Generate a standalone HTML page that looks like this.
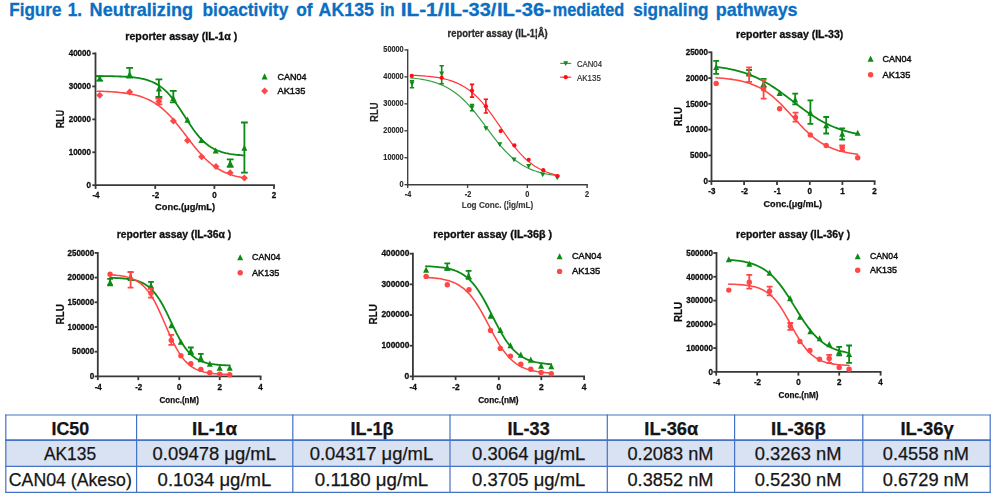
<!DOCTYPE html>
<html>
<head>
<meta charset="utf-8">
<title>Figure 1</title>
<style>
html, body { margin: 0; padding: 0; background: #ffffff; }
body { width: 996px; height: 502px; overflow: hidden; position: relative; font-family: "Liberation Sans", sans-serif; }
svg { position: absolute; left: 0; top: 0; }
svg text { font-family: "Liberation Sans", sans-serif; }
</style>
</head>
<body>
<svg id="charts" width="996" height="502" viewBox="0 0 996 502">
<defs><filter id="soft" x="-2%" y="-2%" width="104%" height="104%"><feGaussianBlur stdDeviation="0.62"/></filter></defs>
<g filter="url(#soft)">
<path d="M95.50,52.60 L95.50,185.20 L274.90,185.20" stroke="#383838" stroke-width="1.8" fill="none" stroke-linejoin="miter"/>
<path d="M92.30,185.20 L95.50,185.20" stroke="#383838" stroke-width="1.8"/>
<text x="90.90" y="187.52" font-size="9.5" font-weight="bold" text-anchor="end" fill="#0c0c0c" textLength="4.5" lengthAdjust="spacingAndGlyphs" stroke="#0c0c0c" stroke-width="0.3">0</text>
<path d="M92.30,152.27 L95.50,152.27" stroke="#383838" stroke-width="1.8"/>
<text x="90.90" y="154.59" font-size="9.5" font-weight="bold" text-anchor="end" fill="#0c0c0c" textLength="22.2" lengthAdjust="spacingAndGlyphs" stroke="#0c0c0c" stroke-width="0.3">10000</text>
<path d="M92.30,119.35 L95.50,119.35" stroke="#383838" stroke-width="1.8"/>
<text x="90.90" y="121.67" font-size="9.5" font-weight="bold" text-anchor="end" fill="#0c0c0c" textLength="22.2" lengthAdjust="spacingAndGlyphs" stroke="#0c0c0c" stroke-width="0.3">20000</text>
<path d="M92.30,86.42 L95.50,86.42" stroke="#383838" stroke-width="1.8"/>
<text x="90.90" y="88.74" font-size="9.5" font-weight="bold" text-anchor="end" fill="#0c0c0c" textLength="22.2" lengthAdjust="spacingAndGlyphs" stroke="#0c0c0c" stroke-width="0.3">30000</text>
<path d="M92.30,53.50 L95.50,53.50" stroke="#383838" stroke-width="1.8"/>
<text x="90.90" y="55.82" font-size="9.5" font-weight="bold" text-anchor="end" fill="#0c0c0c" textLength="22.2" lengthAdjust="spacingAndGlyphs" stroke="#0c0c0c" stroke-width="0.3">40000</text>
<path d="M95.60,185.20 L95.60,188.90" stroke="#383838" stroke-width="1.8"/>
<text x="96.00" y="197.72" font-size="9.5" font-weight="bold" text-anchor="middle" fill="#0c0c0c" textLength="7.1" lengthAdjust="spacingAndGlyphs" stroke="#0c0c0c" stroke-width="0.3">-4</text>
<path d="M155.20,185.20 L155.20,188.90" stroke="#383838" stroke-width="1.8"/>
<text x="155.60" y="197.72" font-size="9.5" font-weight="bold" text-anchor="middle" fill="#0c0c0c" textLength="7.1" lengthAdjust="spacingAndGlyphs" stroke="#0c0c0c" stroke-width="0.3">-2</text>
<path d="M214.40,185.20 L214.40,188.90" stroke="#383838" stroke-width="1.8"/>
<text x="214.40" y="197.72" font-size="9.5" font-weight="bold" text-anchor="middle" fill="#0c0c0c" textLength="4.5" lengthAdjust="spacingAndGlyphs" stroke="#0c0c0c" stroke-width="0.3">0</text>
<path d="M274.00,185.20 L274.00,188.90" stroke="#383838" stroke-width="1.8"/>
<text x="274.00" y="197.72" font-size="9.5" font-weight="bold" text-anchor="middle" fill="#0c0c0c" textLength="4.5" lengthAdjust="spacingAndGlyphs" stroke="#0c0c0c" stroke-width="0.3">2</text>
<text x="181.30" y="39.60" font-size="10.9" font-weight="bold" text-anchor="middle" fill="#0c0c0c" textLength="112.0" lengthAdjust="spacingAndGlyphs" stroke="#0c0c0c" stroke-width="0.3">reporter assay (IL-1α )</text>
<text x="185.10" y="210.20" font-size="9.7" font-weight="bold" text-anchor="middle" fill="#0c0c0c" textLength="60" lengthAdjust="spacingAndGlyphs" stroke="#0c0c0c" stroke-width="0.25">Conc.(μg/mL)</text>
<text transform="translate(63.60,119.00) rotate(-90)" font-size="10.0" font-weight="bold" text-anchor="middle" fill="#0c0c0c" textLength="18.0" lengthAdjust="spacingAndGlyphs" stroke="#0c0c0c" stroke-width="0.2">RLU</text>
<path d="M261.60,79.45 L267.60,79.45 L264.60,73.35 Z" fill="#0b8a14"/>
<text x="277.50" y="79.50" font-size="9.8" font-weight="normal" text-anchor="start" fill="#111" textLength="29.0" lengthAdjust="spacingAndGlyphs" stroke="#111" stroke-width="0.45">CAN04</text>
<path d="M261.10,91.00 L264.60,87.50 L268.10,91.00 L264.60,94.50 Z" fill="#ff4646"/>
<text x="277.50" y="93.90" font-size="9.8" font-weight="normal" text-anchor="start" fill="#111" textLength="27.8" lengthAdjust="spacingAndGlyphs" stroke="#111" stroke-width="0.45">AK135</text>
<path d="M96.20,76.02 L98.08,76.03 L99.95,76.05 L101.83,76.06 L103.70,76.08 L105.58,76.11 L107.46,76.13 L109.33,76.16 L111.21,76.20 L113.08,76.24 L114.96,76.29 L116.84,76.34 L118.71,76.40 L120.59,76.48 L122.46,76.56 L124.34,76.66 L126.22,76.77 L128.09,76.90 L129.97,77.05 L131.84,77.22 L133.72,77.42 L135.59,77.65 L137.47,77.91 L139.35,78.22 L141.22,78.56 L143.10,78.96 L144.97,79.42 L146.85,79.94 L148.73,80.54 L150.60,81.22 L152.48,81.99 L154.35,82.87 L156.23,83.86 L158.11,84.97 L159.98,86.21 L161.86,87.60 L163.73,89.14 L165.61,90.84 L167.49,92.70 L169.36,94.73 L171.24,96.93 L173.11,99.28 L174.99,101.78 L176.87,104.42 L178.74,107.17 L180.62,110.01 L182.49,112.92 L184.37,115.85 L186.25,118.79 L188.12,121.70 L190.00,124.56 L191.87,127.32 L193.75,129.97 L195.63,132.49 L197.50,134.86 L199.38,137.08 L201.25,139.13 L203.13,141.02 L205.01,142.74 L206.88,144.30 L208.76,145.70 L210.63,146.97 L212.51,148.09 L214.38,149.10 L216.26,149.99 L218.14,150.77 L220.01,151.46 L221.89,152.07 L223.76,152.60 L225.64,153.07 L227.52,153.47 L229.39,153.83 L231.27,154.14 L233.14,154.40 L235.02,154.64 L236.90,154.84 L238.77,155.02 L240.65,155.17 L242.52,155.30 L244.40,155.42" stroke="#0b8a14" stroke-width="1.8" fill="none" stroke-linecap="round"/>
<path d="M99.70,76.30 L99.70,80.60 M96.30,76.30 L103.10,76.30 M96.30,80.60 L103.10,80.60" stroke="#0b8a14" stroke-width="1.8" fill="none"/>
<path d="M129.60,67.80 L129.60,77.60 M126.20,67.80 L133.00,67.80 M126.20,77.60 L133.00,77.60" stroke="#0b8a14" stroke-width="1.8" fill="none"/>
<path d="M158.90,79.30 L158.90,97.00 M155.50,79.30 L162.30,79.30 M155.50,97.00 L162.30,97.00" stroke="#0b8a14" stroke-width="1.8" fill="none"/>
<path d="M173.30,90.80 L173.30,102.30 M169.90,90.80 L176.70,90.80 M169.90,102.30 L176.70,102.30" stroke="#0b8a14" stroke-width="1.8" fill="none"/>
<path d="M230.20,159.40 L230.20,166.80 M226.80,159.40 L233.60,159.40 M226.80,166.80 L233.60,166.80" stroke="#0b8a14" stroke-width="1.8" fill="none"/>
<path d="M244.40,122.50 L244.40,172.70 M241.00,122.50 L247.80,122.50 M241.00,172.70 L247.80,172.70" stroke="#0b8a14" stroke-width="1.8" fill="none"/>
<path d="M96.70,81.15 L102.70,81.15 L99.70,75.05 Z" fill="#0b8a14"/>
<path d="M126.60,77.25 L132.60,77.25 L129.60,71.15 Z" fill="#0b8a14"/>
<path d="M155.90,91.45 L161.90,91.45 L158.90,85.35 Z" fill="#0b8a14"/>
<path d="M170.30,101.05 L176.30,101.05 L173.30,94.95 Z" fill="#0b8a14"/>
<path d="M184.50,122.65 L190.50,122.65 L187.50,116.55 Z" fill="#0b8a14"/>
<path d="M198.40,143.05 L204.40,143.05 L201.40,136.95 Z" fill="#0b8a14"/>
<path d="M212.70,153.55 L218.70,153.55 L215.70,147.45 Z" fill="#0b8a14"/>
<path d="M227.20,166.05 L233.20,166.05 L230.20,159.95 Z" fill="#0b8a14"/>
<path d="M241.40,150.85 L247.40,150.85 L244.40,144.75 Z" fill="#0b8a14"/>
<path d="M97.20,91.16 L99.06,91.22 L100.93,91.28 L102.79,91.35 L104.65,91.43 L106.52,91.51 L108.38,91.61 L110.24,91.71 L112.11,91.83 L113.97,91.96 L115.83,92.11 L117.70,92.27 L119.56,92.45 L121.42,92.66 L123.29,92.88 L125.15,93.13 L127.01,93.40 L128.88,93.71 L130.74,94.04 L132.60,94.42 L134.47,94.83 L136.33,95.29 L138.19,95.79 L140.06,96.34 L141.92,96.95 L143.78,97.62 L145.65,98.36 L147.51,99.16 L149.37,100.04 L151.24,101.00 L153.10,102.05 L154.96,103.18 L156.83,104.41 L158.69,105.73 L160.55,107.15 L162.42,108.68 L164.28,110.31 L166.14,112.04 L168.01,113.87 L169.87,115.81 L171.73,117.84 L173.59,119.96 L175.46,122.16 L177.32,124.44 L179.18,126.78 L181.05,129.17 L182.91,131.60 L184.77,134.06 L186.64,136.52 L188.50,138.98 L190.36,141.42 L192.23,143.82 L194.09,146.18 L195.95,148.48 L197.82,150.71 L199.68,152.86 L201.54,154.92 L203.41,156.89 L205.27,158.76 L207.13,160.52 L209.00,162.19 L210.86,163.75 L212.72,165.20 L214.59,166.56 L216.45,167.82 L218.31,168.98 L220.18,170.05 L222.04,171.04 L223.90,171.95 L225.77,172.77 L227.63,173.53 L229.49,174.22 L231.36,174.85 L233.22,175.43 L235.08,175.95 L236.95,176.42 L238.81,176.84 L240.67,177.23 L242.54,177.58 L244.40,177.89" stroke="#ff4646" stroke-width="1.55" fill="none" stroke-linecap="round"/>
<path d="M158.90,98.60 L158.90,104.40 M155.50,98.60 L162.30,98.60 M155.50,104.40 L162.30,104.40" stroke="#ff4646" stroke-width="1.8" fill="none"/>
<path d="M96.20,95.30 L99.70,91.80 L103.20,95.30 L99.70,98.80 Z" fill="#ff4646"/>
<path d="M126.10,92.00 L129.60,88.50 L133.10,92.00 L129.60,95.50 Z" fill="#ff4646"/>
<path d="M155.40,101.60 L158.90,98.10 L162.40,101.60 L158.90,105.10 Z" fill="#ff4646"/>
<path d="M169.90,121.10 L173.40,117.60 L176.90,121.10 L173.40,124.60 Z" fill="#ff4646"/>
<path d="M184.00,140.50 L187.50,137.00 L191.00,140.50 L187.50,144.00 Z" fill="#ff4646"/>
<path d="M198.10,156.80 L201.60,153.30 L205.10,156.80 L201.60,160.30 Z" fill="#ff4646"/>
<path d="M212.50,166.40 L216.00,162.90 L219.50,166.40 L216.00,169.90 Z" fill="#ff4646"/>
<path d="M226.70,172.70 L230.20,169.20 L233.70,172.70 L230.20,176.20 Z" fill="#ff4646"/>
<path d="M240.90,178.10 L244.40,174.60 L247.90,178.10 L244.40,181.60 Z" fill="#ff4646"/>
<path d="M407.70,49.23 L407.70,184.70 L587.88,184.70" stroke="#3c3c3c" stroke-width="1.35" fill="none" stroke-linejoin="miter"/>
<path d="M404.50,184.70 L407.70,184.70" stroke="#3c3c3c" stroke-width="1.35"/>
<text x="403.70" y="186.92" font-size="8.4" font-weight="bold" text-anchor="end" fill="#2a2a2a" textLength="4.1" lengthAdjust="spacingAndGlyphs" stroke="#2a2a2a" stroke-width="0.15">0</text>
<path d="M404.50,157.74 L407.70,157.74" stroke="#3c3c3c" stroke-width="1.35"/>
<text x="403.70" y="159.96" font-size="8.4" font-weight="bold" text-anchor="end" fill="#2a2a2a" textLength="20.4" lengthAdjust="spacingAndGlyphs" stroke="#2a2a2a" stroke-width="0.15">10000</text>
<path d="M404.50,130.78 L407.70,130.78" stroke="#3c3c3c" stroke-width="1.35"/>
<text x="403.70" y="133.00" font-size="8.4" font-weight="bold" text-anchor="end" fill="#2a2a2a" textLength="20.4" lengthAdjust="spacingAndGlyphs" stroke="#2a2a2a" stroke-width="0.15">20000</text>
<path d="M404.50,103.82 L407.70,103.82" stroke="#3c3c3c" stroke-width="1.35"/>
<text x="403.70" y="106.04" font-size="8.4" font-weight="bold" text-anchor="end" fill="#2a2a2a" textLength="20.4" lengthAdjust="spacingAndGlyphs" stroke="#2a2a2a" stroke-width="0.15">30000</text>
<path d="M404.50,76.86 L407.70,76.86" stroke="#3c3c3c" stroke-width="1.35"/>
<text x="403.70" y="79.08" font-size="8.4" font-weight="bold" text-anchor="end" fill="#2a2a2a" textLength="20.4" lengthAdjust="spacingAndGlyphs" stroke="#2a2a2a" stroke-width="0.15">40000</text>
<path d="M404.50,49.90 L407.70,49.90" stroke="#3c3c3c" stroke-width="1.35"/>
<text x="403.70" y="52.12" font-size="8.4" font-weight="bold" text-anchor="end" fill="#2a2a2a" textLength="20.4" lengthAdjust="spacingAndGlyphs" stroke="#2a2a2a" stroke-width="0.15">50000</text>
<path d="M407.70,184.70 L407.70,187.90" stroke="#3c3c3c" stroke-width="1.35"/>
<text x="408.10" y="196.82" font-size="8.4" font-weight="bold" text-anchor="middle" fill="#2a2a2a" textLength="6.5" lengthAdjust="spacingAndGlyphs" stroke="#2a2a2a" stroke-width="0.15">-4</text>
<path d="M467.60,184.70 L467.60,187.90" stroke="#3c3c3c" stroke-width="1.35"/>
<text x="468.00" y="196.82" font-size="8.4" font-weight="bold" text-anchor="middle" fill="#2a2a2a" textLength="6.5" lengthAdjust="spacingAndGlyphs" stroke="#2a2a2a" stroke-width="0.15">-2</text>
<path d="M527.30,184.70 L527.30,187.90" stroke="#3c3c3c" stroke-width="1.35"/>
<text x="527.30" y="196.82" font-size="8.4" font-weight="bold" text-anchor="middle" fill="#2a2a2a" textLength="4.1" lengthAdjust="spacingAndGlyphs" stroke="#2a2a2a" stroke-width="0.15">0</text>
<path d="M587.10,184.70 L587.10,187.90" stroke="#3c3c3c" stroke-width="1.35"/>
<text x="587.10" y="196.82" font-size="8.4" font-weight="bold" text-anchor="middle" fill="#2a2a2a" textLength="4.1" lengthAdjust="spacingAndGlyphs" stroke="#2a2a2a" stroke-width="0.15">2</text>
<text x="497.60" y="37.30" font-size="10.0" font-weight="bold" text-anchor="middle" fill="#2a2a2a" textLength="100.0" lengthAdjust="spacingAndGlyphs" stroke="#2a2a2a" stroke-width="0.3">reporter assay (IL-1¦Â)</text>
<text x="497.50" y="208.00" font-size="8.8" font-weight="bold" text-anchor="middle" fill="#3a3a3a" textLength="71.7" lengthAdjust="spacingAndGlyphs" stroke="#3a3a3a" stroke-width="0.15">Log Conc. (¦Ìg/mL)</text>
<text transform="translate(378.36,112.20) rotate(-90)" font-size="11.0" font-weight="bold" text-anchor="middle" fill="#2a2a2a" textLength="19.4" lengthAdjust="spacingAndGlyphs" stroke="#2a2a2a" stroke-width="0.2">RLU</text>
<path d="M560.20,63.40 L571.20,63.40" stroke="#38a042" stroke-width="1.2"/>
<path d="M563.20,61.20 L568.20,61.20 L565.70,65.90 Z" fill="#128a1c"/>
<text x="577.00" y="66.80" font-size="9.6" font-weight="normal" text-anchor="start" fill="#2a2a2a" textLength="25.0" lengthAdjust="spacingAndGlyphs" stroke="#2a2a2a" stroke-width="0.2">CAN04</text>
<path d="M560.20,77.20 L571.20,77.20" stroke="#ff3538" stroke-width="1.2"/>
<circle cx="565.70" cy="77.20" r="2.11" fill="#ff0d12"/>
<text x="577.00" y="80.60" font-size="9.6" font-weight="normal" text-anchor="start" fill="#2a2a2a" textLength="23.8" lengthAdjust="spacingAndGlyphs" stroke="#2a2a2a" stroke-width="0.2">AK135</text>
<path d="M410.60,77.88 L412.46,78.07 L414.32,78.27 L416.18,78.50 L418.04,78.74 L419.90,79.01 L421.76,79.31 L423.63,79.64 L425.49,80.00 L427.35,80.39 L429.21,80.82 L431.07,81.29 L432.93,81.80 L434.79,82.36 L436.65,82.97 L438.51,83.63 L440.37,84.36 L442.23,85.14 L444.09,85.99 L445.95,86.92 L447.82,87.91 L449.68,88.99 L451.54,90.15 L453.40,91.39 L455.26,92.72 L457.12,94.15 L458.98,95.66 L460.84,97.28 L462.70,98.98 L464.56,100.79 L466.42,102.68 L468.28,104.67 L470.14,106.75 L472.01,108.91 L473.87,111.15 L475.73,113.45 L477.59,115.82 L479.45,118.24 L481.31,120.70 L483.17,123.19 L485.03,125.70 L486.89,128.22 L488.75,130.73 L490.61,133.22 L492.47,135.68 L494.33,138.11 L496.19,140.48 L498.06,142.78 L499.92,145.02 L501.78,147.19 L503.64,149.27 L505.50,151.26 L507.36,153.16 L509.22,154.96 L511.08,156.68 L512.94,158.29 L514.80,159.81 L516.66,161.24 L518.52,162.57 L520.38,163.82 L522.25,164.98 L524.11,166.06 L525.97,167.06 L527.83,167.98 L529.69,168.84 L531.55,169.62 L533.41,170.35 L535.27,171.02 L537.13,171.63 L538.99,172.19 L540.85,172.70 L542.71,173.18 L544.57,173.61 L546.44,174.00 L548.30,174.36 L550.16,174.69 L552.02,174.98 L553.88,175.26 L555.74,175.50 L557.60,175.73" stroke="#38a042" stroke-width="1.2" fill="none" stroke-linecap="round"/>
<path d="M412.00,80.80 L412.00,87.70 M409.85,80.80 L414.15,80.80 M409.85,87.70 L414.15,87.70" stroke="#128a1c" stroke-width="1.6" fill="none"/>
<path d="M441.70,65.80 L441.70,83.80 M439.55,65.80 L443.85,65.80 M439.55,83.80 L443.85,83.80" stroke="#128a1c" stroke-width="1.6" fill="none"/>
<path d="M472.00,104.60 L472.00,110.80 M469.85,104.60 L474.15,104.60 M469.85,110.80 L474.15,110.80" stroke="#128a1c" stroke-width="1.6" fill="none"/>
<path d="M409.50,81.60 L414.50,81.60 L412.00,86.30 Z" fill="#128a1c"/>
<path d="M439.20,71.60 L444.20,71.60 L441.70,76.30 Z" fill="#128a1c"/>
<path d="M469.50,105.50 L474.50,105.50 L472.00,110.20 Z" fill="#128a1c"/>
<path d="M483.40,126.20 L488.40,126.20 L485.90,130.90 Z" fill="#128a1c"/>
<path d="M497.30,142.20 L502.30,142.20 L499.80,146.90 Z" fill="#128a1c"/>
<path d="M511.50,157.60 L516.50,157.60 L514.00,162.30 Z" fill="#128a1c"/>
<path d="M526.20,164.00 L531.20,164.00 L528.70,168.70 Z" fill="#128a1c"/>
<path d="M540.20,172.50 L545.20,172.50 L542.70,177.20 Z" fill="#128a1c"/>
<path d="M554.70,175.50 L559.70,175.50 L557.20,180.20 Z" fill="#128a1c"/>
<path d="M410.60,75.19 L412.46,75.27 L414.32,75.35 L416.18,75.44 L418.04,75.54 L419.90,75.66 L421.76,75.78 L423.63,75.92 L425.49,76.07 L427.35,76.24 L429.21,76.43 L431.07,76.64 L432.93,76.87 L434.79,77.12 L436.65,77.40 L438.51,77.71 L440.37,78.05 L442.23,78.42 L444.09,78.83 L445.95,79.29 L447.82,79.79 L449.68,80.34 L451.54,80.94 L453.40,81.60 L455.26,82.32 L457.12,83.10 L458.98,83.96 L460.84,84.90 L462.70,85.92 L464.56,87.02 L466.42,88.21 L468.28,89.50 L470.14,90.89 L472.01,92.38 L473.87,93.98 L475.73,95.69 L477.59,97.50 L479.45,99.43 L481.31,101.46 L483.17,103.60 L485.03,105.84 L486.89,108.18 L488.75,110.60 L490.61,113.10 L492.47,115.68 L494.33,118.31 L496.19,120.98 L498.06,123.69 L499.92,126.42 L501.78,129.15 L503.64,131.86 L505.50,134.56 L507.36,137.21 L509.22,139.80 L511.08,142.33 L512.94,144.79 L514.80,147.16 L516.66,149.43 L518.52,151.61 L520.38,153.68 L522.25,155.65 L524.11,157.50 L525.97,159.25 L527.83,160.89 L529.69,162.42 L531.55,163.85 L533.41,165.18 L535.27,166.41 L537.13,167.54 L538.99,168.59 L540.85,169.56 L542.71,170.44 L544.57,171.26 L546.44,172.00 L548.30,172.68 L550.16,173.31 L552.02,173.87 L553.88,174.39 L555.74,174.86 L557.60,175.29" stroke="#ff3538" stroke-width="1.2" fill="none" stroke-linecap="round"/>
<path d="M472.00,84.40 L472.00,97.10 M469.85,84.40 L474.15,84.40 M469.85,97.10 L474.15,97.10" stroke="#ff0d12" stroke-width="1.6" fill="none"/>
<path d="M485.90,99.30 L485.90,113.00 M483.75,99.30 L488.05,99.30 M483.75,113.00 L488.05,113.00" stroke="#ff0d12" stroke-width="1.6" fill="none"/>
<circle cx="411.80" cy="75.80" r="2.11" fill="#ff0d12"/>
<circle cx="441.70" cy="77.80" r="2.11" fill="#ff0d12"/>
<circle cx="472.00" cy="90.70" r="2.11" fill="#ff0d12"/>
<circle cx="485.90" cy="106.30" r="2.11" fill="#ff0d12"/>
<circle cx="500.70" cy="131.10" r="2.11" fill="#ff0d12"/>
<circle cx="514.40" cy="145.40" r="2.11" fill="#ff0d12"/>
<circle cx="528.70" cy="159.80" r="2.11" fill="#ff0d12"/>
<circle cx="543.30" cy="170.20" r="2.11" fill="#ff0d12"/>
<circle cx="557.60" cy="176.10" r="2.11" fill="#ff0d12"/>
<path d="M711.50,51.40 L711.50,181.20 L875.50,181.20" stroke="#383838" stroke-width="1.8" fill="none" stroke-linejoin="miter"/>
<path d="M708.30,181.20 L711.50,181.20" stroke="#383838" stroke-width="1.8"/>
<text x="707.90" y="183.92" font-size="9.5" font-weight="bold" text-anchor="end" fill="#0c0c0c" textLength="4.5" lengthAdjust="spacingAndGlyphs" stroke="#0c0c0c" stroke-width="0.3">0</text>
<path d="M708.30,155.42 L711.50,155.42" stroke="#383838" stroke-width="1.8"/>
<text x="707.90" y="158.14" font-size="9.5" font-weight="bold" text-anchor="end" fill="#0c0c0c" textLength="17.8" lengthAdjust="spacingAndGlyphs" stroke="#0c0c0c" stroke-width="0.3">5000</text>
<path d="M708.30,129.64 L711.50,129.64" stroke="#383838" stroke-width="1.8"/>
<text x="707.90" y="132.36" font-size="9.5" font-weight="bold" text-anchor="end" fill="#0c0c0c" textLength="22.2" lengthAdjust="spacingAndGlyphs" stroke="#0c0c0c" stroke-width="0.3">10000</text>
<path d="M708.30,103.86 L711.50,103.86" stroke="#383838" stroke-width="1.8"/>
<text x="707.90" y="106.58" font-size="9.5" font-weight="bold" text-anchor="end" fill="#0c0c0c" textLength="22.2" lengthAdjust="spacingAndGlyphs" stroke="#0c0c0c" stroke-width="0.3">15000</text>
<path d="M708.30,78.08 L711.50,78.08" stroke="#383838" stroke-width="1.8"/>
<text x="707.90" y="80.80" font-size="9.5" font-weight="bold" text-anchor="end" fill="#0c0c0c" textLength="22.2" lengthAdjust="spacingAndGlyphs" stroke="#0c0c0c" stroke-width="0.3">20000</text>
<path d="M708.30,52.30 L711.50,52.30" stroke="#383838" stroke-width="1.8"/>
<text x="707.90" y="55.02" font-size="9.5" font-weight="bold" text-anchor="end" fill="#0c0c0c" textLength="22.2" lengthAdjust="spacingAndGlyphs" stroke="#0c0c0c" stroke-width="0.3">25000</text>
<path d="M711.40,181.20 L711.40,184.90" stroke="#383838" stroke-width="1.8"/>
<text x="711.80" y="193.72" font-size="9.5" font-weight="bold" text-anchor="middle" fill="#0c0c0c" textLength="7.1" lengthAdjust="spacingAndGlyphs" stroke="#0c0c0c" stroke-width="0.3">-3</text>
<path d="M744.10,181.20 L744.10,184.90" stroke="#383838" stroke-width="1.8"/>
<text x="744.50" y="193.72" font-size="9.5" font-weight="bold" text-anchor="middle" fill="#0c0c0c" textLength="7.1" lengthAdjust="spacingAndGlyphs" stroke="#0c0c0c" stroke-width="0.3">-2</text>
<path d="M777.00,181.20 L777.00,184.90" stroke="#383838" stroke-width="1.8"/>
<text x="777.40" y="193.72" font-size="9.5" font-weight="bold" text-anchor="middle" fill="#0c0c0c" textLength="7.1" lengthAdjust="spacingAndGlyphs" stroke="#0c0c0c" stroke-width="0.3">-1</text>
<path d="M809.80,181.20 L809.80,184.90" stroke="#383838" stroke-width="1.8"/>
<text x="809.80" y="193.72" font-size="9.5" font-weight="bold" text-anchor="middle" fill="#0c0c0c" textLength="4.5" lengthAdjust="spacingAndGlyphs" stroke="#0c0c0c" stroke-width="0.3">0</text>
<path d="M842.40,181.20 L842.40,184.90" stroke="#383838" stroke-width="1.8"/>
<text x="842.40" y="193.72" font-size="9.5" font-weight="bold" text-anchor="middle" fill="#0c0c0c" textLength="4.5" lengthAdjust="spacingAndGlyphs" stroke="#0c0c0c" stroke-width="0.3">1</text>
<path d="M874.60,181.20 L874.60,184.90" stroke="#383838" stroke-width="1.8"/>
<text x="874.60" y="193.72" font-size="9.5" font-weight="bold" text-anchor="middle" fill="#0c0c0c" textLength="4.5" lengthAdjust="spacingAndGlyphs" stroke="#0c0c0c" stroke-width="0.3">2</text>
<text x="789.70" y="38.10" font-size="10.9" font-weight="bold" text-anchor="middle" fill="#0c0c0c" textLength="107.2" lengthAdjust="spacingAndGlyphs" stroke="#0c0c0c" stroke-width="0.3">reporter assay (IL-33)</text>
<text x="792.80" y="206.60" font-size="9.7" font-weight="bold" text-anchor="middle" fill="#0c0c0c" textLength="58.5" lengthAdjust="spacingAndGlyphs" stroke="#0c0c0c" stroke-width="0.25">Conc.(μg/mL)</text>
<text transform="translate(681.60,116.60) rotate(-90)" font-size="10.0" font-weight="bold" text-anchor="middle" fill="#0c0c0c" textLength="18.8" lengthAdjust="spacingAndGlyphs" stroke="#0c0c0c" stroke-width="0.2">RLU</text>
<path d="M867.60,61.65 L873.60,61.65 L870.60,55.55 Z" fill="#0b8a14"/>
<text x="882.60" y="61.70" font-size="9.8" font-weight="normal" text-anchor="start" fill="#111" textLength="29.0" lengthAdjust="spacingAndGlyphs" stroke="#111" stroke-width="0.45">CAN04</text>
<circle cx="870.60" cy="74.80" r="2.70" fill="#ff4646"/>
<text x="882.60" y="77.70" font-size="9.8" font-weight="normal" text-anchor="start" fill="#111" textLength="27.8" lengthAdjust="spacingAndGlyphs" stroke="#111" stroke-width="0.45">AK135</text>
<path d="M716.00,66.81 L717.79,67.04 L719.59,67.28 L721.38,67.54 L723.17,67.82 L724.97,68.12 L726.76,68.43 L728.56,68.77 L730.35,69.13 L732.14,69.51 L733.94,69.92 L735.73,70.35 L737.52,70.81 L739.32,71.30 L741.11,71.82 L742.91,72.36 L744.70,72.94 L746.49,73.55 L748.29,74.20 L750.08,74.88 L751.87,75.60 L753.67,76.35 L755.46,77.14 L757.25,77.96 L759.05,78.83 L760.84,79.73 L762.64,80.68 L764.43,81.66 L766.22,82.68 L768.02,83.73 L769.81,84.83 L771.60,85.96 L773.40,87.12 L775.19,88.32 L776.98,89.54 L778.78,90.80 L780.57,92.08 L782.37,93.38 L784.16,94.70 L785.95,96.04 L787.75,97.40 L789.54,98.76 L791.33,100.13 L793.13,101.50 L794.92,102.88 L796.72,104.25 L798.51,105.61 L800.30,106.96 L802.10,108.29 L803.89,109.61 L805.68,110.91 L807.48,112.18 L809.27,113.43 L811.06,114.64 L812.86,115.83 L814.65,116.98 L816.45,118.10 L818.24,119.19 L820.03,120.23 L821.83,121.24 L823.62,122.21 L825.41,123.14 L827.21,124.03 L829.00,124.89 L830.79,125.70 L832.59,126.48 L834.38,127.22 L836.18,127.93 L837.97,128.60 L839.76,129.23 L841.56,129.84 L843.35,130.40 L845.14,130.94 L846.94,131.45 L848.73,131.93 L850.53,132.38 L852.32,132.81 L854.11,133.21 L855.91,133.58 L857.70,133.94" stroke="#0b8a14" stroke-width="1.8" fill="none" stroke-linecap="round"/>
<path d="M716.20,60.90 L716.20,73.80 M713.30,60.90 L719.10,60.90 M713.30,73.80 L719.10,73.80" stroke="#0b8a14" stroke-width="1.8" fill="none"/>
<path d="M749.10,70.00 L749.10,75.60 M746.20,70.00 L752.00,70.00 M746.20,75.60 L752.00,75.60" stroke="#0b8a14" stroke-width="1.8" fill="none"/>
<path d="M763.60,78.80 L763.60,87.00 M760.70,78.80 L766.50,78.80 M760.70,87.00 L766.50,87.00" stroke="#0b8a14" stroke-width="1.8" fill="none"/>
<path d="M795.20,93.70 L795.20,104.30 M792.30,93.70 L798.10,93.70 M792.30,104.30 L798.10,104.30" stroke="#0b8a14" stroke-width="1.8" fill="none"/>
<path d="M810.40,100.30 L810.40,123.80 M807.50,100.30 L813.30,100.30 M807.50,123.80 L813.30,123.80" stroke="#0b8a14" stroke-width="1.8" fill="none"/>
<path d="M826.20,117.00 L826.20,133.50 M823.30,117.00 L829.10,117.00 M823.30,133.50 L829.10,133.50" stroke="#0b8a14" stroke-width="1.8" fill="none"/>
<path d="M842.20,128.30 L842.20,139.50 M839.30,128.30 L845.10,128.30 M839.30,139.50 L845.10,139.50" stroke="#0b8a14" stroke-width="1.8" fill="none"/>
<path d="M713.20,70.05 L719.20,70.05 L716.20,63.95 Z" fill="#0b8a14"/>
<path d="M746.10,75.65 L752.10,75.65 L749.10,69.55 Z" fill="#0b8a14"/>
<path d="M760.60,86.65 L766.60,86.65 L763.60,80.55 Z" fill="#0b8a14"/>
<path d="M776.60,95.95 L782.60,95.95 L779.60,89.85 Z" fill="#0b8a14"/>
<path d="M792.20,102.55 L798.20,102.55 L795.20,96.45 Z" fill="#0b8a14"/>
<path d="M807.40,115.65 L813.40,115.65 L810.40,109.55 Z" fill="#0b8a14"/>
<path d="M823.20,128.35 L829.20,128.35 L826.20,122.25 Z" fill="#0b8a14"/>
<path d="M839.20,136.75 L845.20,136.75 L842.20,130.65 Z" fill="#0b8a14"/>
<path d="M854.70,135.75 L860.70,135.75 L857.70,129.65 Z" fill="#0b8a14"/>
<path d="M716.00,77.81 L717.79,77.93 L719.59,78.05 L721.38,78.19 L723.17,78.35 L724.97,78.52 L726.76,78.70 L728.56,78.91 L730.35,79.13 L732.14,79.38 L733.94,79.65 L735.73,79.95 L737.52,80.28 L739.32,80.63 L741.11,81.02 L742.91,81.45 L744.70,81.92 L746.49,82.42 L748.29,82.98 L750.08,83.58 L751.87,84.23 L753.67,84.94 L755.46,85.71 L757.25,86.54 L759.05,87.43 L760.84,88.39 L762.64,89.42 L764.43,90.52 L766.22,91.70 L768.02,92.95 L769.81,94.28 L771.60,95.68 L773.40,97.16 L775.19,98.71 L776.98,100.34 L778.78,102.03 L780.57,103.78 L782.37,105.59 L784.16,107.45 L785.95,109.35 L787.75,111.28 L789.54,113.24 L791.33,115.22 L793.13,117.20 L794.92,119.18 L796.72,121.15 L798.51,123.09 L800.30,125.00 L802.10,126.87 L803.89,128.69 L805.68,130.46 L807.48,132.17 L809.27,133.81 L811.06,135.38 L812.86,136.88 L814.65,138.30 L816.45,139.65 L818.24,140.92 L820.03,142.12 L821.83,143.24 L823.62,144.29 L825.41,145.27 L827.21,146.18 L829.00,147.03 L830.79,147.81 L832.59,148.54 L834.38,149.20 L836.18,149.82 L837.97,150.39 L839.76,150.91 L841.56,151.38 L843.35,151.82 L845.14,152.22 L846.94,152.59 L848.73,152.92 L850.53,153.23 L852.32,153.50 L854.11,153.76 L855.91,153.99 L857.70,154.20" stroke="#ff4646" stroke-width="1.55" fill="none" stroke-linecap="round"/>
<path d="M749.10,67.40 L749.10,81.80 M746.20,67.40 L752.00,67.40 M746.20,81.80 L752.00,81.80" stroke="#ff4646" stroke-width="1.8" fill="none"/>
<path d="M763.60,79.80 L763.60,98.70 M760.70,79.80 L766.50,79.80 M760.70,98.70 L766.50,98.70" stroke="#ff4646" stroke-width="1.8" fill="none"/>
<path d="M795.50,112.60 L795.50,121.60 M792.60,112.60 L798.40,112.60 M792.60,121.60 L798.40,121.60" stroke="#ff4646" stroke-width="1.8" fill="none"/>
<path d="M842.20,145.50 L842.20,150.80 M839.30,145.50 L845.10,145.50 M839.30,150.80 L845.10,150.80" stroke="#ff4646" stroke-width="1.8" fill="none"/>
<circle cx="716.20" cy="83.40" r="2.70" fill="#ff4646"/>
<circle cx="749.10" cy="75.80" r="1.62" fill="#ff4646"/>
<circle cx="763.60" cy="89.10" r="2.70" fill="#ff4646"/>
<circle cx="779.60" cy="108.70" r="2.70" fill="#ff4646"/>
<circle cx="795.50" cy="117.50" r="2.70" fill="#ff4646"/>
<circle cx="810.30" cy="134.90" r="2.70" fill="#ff4646"/>
<circle cx="826.20" cy="145.50" r="2.70" fill="#ff4646"/>
<circle cx="842.20" cy="147.80" r="2.70" fill="#ff4646"/>
<circle cx="857.70" cy="157.80" r="2.70" fill="#ff4646"/>
<path d="M97.80,252.00 L97.80,376.40 L261.50,376.40" stroke="#383838" stroke-width="1.8" fill="none" stroke-linejoin="miter"/>
<path d="M94.60,376.40 L97.80,376.40" stroke="#383838" stroke-width="1.8"/>
<text x="94.20" y="379.12" font-size="9.5" font-weight="bold" text-anchor="end" fill="#0c0c0c" textLength="4.5" lengthAdjust="spacingAndGlyphs" stroke="#0c0c0c" stroke-width="0.3">0</text>
<path d="M94.60,351.70 L97.80,351.70" stroke="#383838" stroke-width="1.8"/>
<text x="94.20" y="354.42" font-size="9.5" font-weight="bold" text-anchor="end" fill="#0c0c0c" textLength="22.2" lengthAdjust="spacingAndGlyphs" stroke="#0c0c0c" stroke-width="0.3">50000</text>
<path d="M94.60,327.00 L97.80,327.00" stroke="#383838" stroke-width="1.8"/>
<text x="94.20" y="329.72" font-size="9.5" font-weight="bold" text-anchor="end" fill="#0c0c0c" textLength="26.7" lengthAdjust="spacingAndGlyphs" stroke="#0c0c0c" stroke-width="0.3">100000</text>
<path d="M94.60,302.30 L97.80,302.30" stroke="#383838" stroke-width="1.8"/>
<text x="94.20" y="305.02" font-size="9.5" font-weight="bold" text-anchor="end" fill="#0c0c0c" textLength="26.7" lengthAdjust="spacingAndGlyphs" stroke="#0c0c0c" stroke-width="0.3">150000</text>
<path d="M94.60,277.60 L97.80,277.60" stroke="#383838" stroke-width="1.8"/>
<text x="94.20" y="280.32" font-size="9.5" font-weight="bold" text-anchor="end" fill="#0c0c0c" textLength="26.7" lengthAdjust="spacingAndGlyphs" stroke="#0c0c0c" stroke-width="0.3">200000</text>
<path d="M94.60,252.90 L97.80,252.90" stroke="#383838" stroke-width="1.8"/>
<text x="94.20" y="255.62" font-size="9.5" font-weight="bold" text-anchor="end" fill="#0c0c0c" textLength="26.7" lengthAdjust="spacingAndGlyphs" stroke="#0c0c0c" stroke-width="0.3">250000</text>
<path d="M97.80,376.40 L97.80,380.10" stroke="#383838" stroke-width="1.8"/>
<text x="98.20" y="389.72" font-size="9.5" font-weight="bold" text-anchor="middle" fill="#0c0c0c" textLength="7.1" lengthAdjust="spacingAndGlyphs" stroke="#0c0c0c" stroke-width="0.3">-4</text>
<path d="M138.30,376.40 L138.30,380.10" stroke="#383838" stroke-width="1.8"/>
<text x="138.70" y="389.72" font-size="9.5" font-weight="bold" text-anchor="middle" fill="#0c0c0c" textLength="7.1" lengthAdjust="spacingAndGlyphs" stroke="#0c0c0c" stroke-width="0.3">-2</text>
<path d="M179.30,376.40 L179.30,380.10" stroke="#383838" stroke-width="1.8"/>
<text x="179.30" y="389.72" font-size="9.5" font-weight="bold" text-anchor="middle" fill="#0c0c0c" textLength="4.5" lengthAdjust="spacingAndGlyphs" stroke="#0c0c0c" stroke-width="0.3">0</text>
<path d="M219.70,376.40 L219.70,380.10" stroke="#383838" stroke-width="1.8"/>
<text x="219.70" y="389.72" font-size="9.5" font-weight="bold" text-anchor="middle" fill="#0c0c0c" textLength="4.5" lengthAdjust="spacingAndGlyphs" stroke="#0c0c0c" stroke-width="0.3">2</text>
<path d="M260.60,376.40 L260.60,380.10" stroke="#383838" stroke-width="1.8"/>
<text x="260.60" y="389.72" font-size="9.5" font-weight="bold" text-anchor="middle" fill="#0c0c0c" textLength="4.5" lengthAdjust="spacingAndGlyphs" stroke="#0c0c0c" stroke-width="0.3">4</text>
<text x="174.00" y="238.10" font-size="10.9" font-weight="bold" text-anchor="middle" fill="#0c0c0c" textLength="114.6" lengthAdjust="spacingAndGlyphs" stroke="#0c0c0c" stroke-width="0.3">reporter assay (IL-36α )</text>
<text x="179.20" y="402.60" font-size="9.7" font-weight="bold" text-anchor="middle" fill="#0c0c0c" textLength="39.5" lengthAdjust="spacingAndGlyphs" stroke="#0c0c0c" stroke-width="0.25">Conc.(nM)</text>
<text transform="translate(63.80,314.20) rotate(-90)" font-size="10.0" font-weight="bold" text-anchor="middle" fill="#0c0c0c" textLength="20.4" lengthAdjust="spacingAndGlyphs" stroke="#0c0c0c" stroke-width="0.2">RLU</text>
<path d="M237.20,260.35 L243.20,260.35 L240.20,254.25 Z" fill="#0b8a14"/>
<text x="252.00" y="260.40" font-size="9.8" font-weight="normal" text-anchor="start" fill="#111" textLength="28.5" lengthAdjust="spacingAndGlyphs" stroke="#111" stroke-width="0.45">CAN04</text>
<circle cx="240.20" cy="272.80" r="2.70" fill="#ff4646"/>
<text x="252.00" y="275.70" font-size="9.8" font-weight="normal" text-anchor="start" fill="#111" textLength="27.4" lengthAdjust="spacingAndGlyphs" stroke="#111" stroke-width="0.45">AK135</text>
<path d="M110.10,277.80 L111.61,277.84 L113.13,277.89 L114.64,277.94 L116.16,278.01 L117.67,278.08 L119.18,278.16 L120.70,278.25 L122.21,278.36 L123.73,278.49 L125.24,278.64 L126.75,278.80 L128.27,279.00 L129.78,279.22 L131.29,279.48 L132.81,279.77 L134.32,280.11 L135.84,280.49 L137.35,280.93 L138.86,281.44 L140.38,282.02 L141.89,282.68 L143.41,283.42 L144.92,284.27 L146.43,285.23 L147.95,286.31 L149.46,287.52 L150.98,288.88 L152.49,290.39 L154.00,292.07 L155.52,293.92 L157.03,295.94 L158.55,298.14 L160.06,300.52 L161.57,303.07 L163.09,305.78 L164.60,308.63 L166.12,311.61 L167.63,314.69 L169.14,317.84 L170.66,321.03 L172.17,324.23 L173.68,327.40 L175.20,330.51 L176.71,333.53 L178.23,336.43 L179.74,339.20 L181.25,341.81 L182.77,344.25 L184.28,346.52 L185.80,348.61 L187.31,350.53 L188.82,352.27 L190.34,353.84 L191.85,355.26 L193.37,356.52 L194.88,357.65 L196.39,358.66 L197.91,359.54 L199.42,360.33 L200.94,361.02 L202.45,361.63 L203.96,362.16 L205.48,362.62 L206.99,363.03 L208.51,363.39 L210.02,363.70 L211.53,363.97 L213.05,364.20 L214.56,364.40 L216.07,364.58 L217.59,364.73 L219.10,364.87 L220.62,364.98 L222.13,365.08 L223.64,365.17 L225.16,365.25 L226.67,365.31 L228.19,365.37 L229.70,365.42" stroke="#0b8a14" stroke-width="1.8" fill="none" stroke-linecap="round"/>
<path d="M110.10,278.80 L110.10,285.30 M107.20,278.80 L113.00,278.80 M107.20,285.30 L113.00,285.30" stroke="#0b8a14" stroke-width="1.8" fill="none"/>
<path d="M130.60,272.20 L130.60,280.00 M127.70,272.20 L133.50,272.20 M127.70,280.00 L133.50,280.00" stroke="#0b8a14" stroke-width="1.8" fill="none"/>
<path d="M151.00,281.80 L151.00,288.70 M148.10,281.80 L153.90,281.80 M148.10,288.70 L153.90,288.70" stroke="#0b8a14" stroke-width="1.8" fill="none"/>
<path d="M190.80,347.50 L190.80,354.20 M187.90,347.50 L193.70,347.50 M187.90,354.20 L193.70,354.20" stroke="#0b8a14" stroke-width="1.8" fill="none"/>
<path d="M200.80,353.80 L200.80,361.40 M197.90,353.80 L203.70,353.80 M197.90,361.40 L203.70,361.40" stroke="#0b8a14" stroke-width="1.8" fill="none"/>
<path d="M107.10,285.15 L113.10,285.15 L110.10,279.05 Z" fill="#0b8a14"/>
<path d="M127.60,279.65 L133.60,279.65 L130.60,273.55 Z" fill="#0b8a14"/>
<path d="M148.00,288.55 L154.00,288.55 L151.00,282.45 Z" fill="#0b8a14"/>
<path d="M168.40,328.35 L174.40,328.35 L171.40,322.25 Z" fill="#0b8a14"/>
<path d="M177.80,344.75 L183.80,344.75 L180.80,338.65 Z" fill="#0b8a14"/>
<path d="M187.80,353.85 L193.80,353.85 L190.80,347.75 Z" fill="#0b8a14"/>
<path d="M197.80,360.65 L203.80,360.65 L200.80,354.55 Z" fill="#0b8a14"/>
<path d="M206.80,366.65 L212.80,366.65 L209.80,360.55 Z" fill="#0b8a14"/>
<path d="M216.70,370.65 L222.70,370.65 L219.70,364.55 Z" fill="#0b8a14"/>
<path d="M226.70,370.65 L232.70,370.65 L229.70,364.55 Z" fill="#0b8a14"/>
<path d="M110.10,274.80 L111.61,274.89 L113.13,274.99 L114.64,275.11 L116.16,275.25 L117.67,275.41 L119.18,275.59 L120.70,275.79 L122.21,276.03 L123.73,276.30 L125.24,276.61 L126.75,276.96 L128.27,277.37 L129.78,277.83 L131.29,278.35 L132.81,278.95 L134.32,279.63 L135.84,280.39 L137.35,281.26 L138.86,282.24 L140.38,283.34 L141.89,284.57 L143.41,285.95 L144.92,287.48 L146.43,289.18 L147.95,291.06 L149.46,293.12 L150.98,295.37 L152.49,297.80 L154.00,300.43 L155.52,303.23 L157.03,306.21 L158.55,309.34 L160.06,312.61 L161.57,315.98 L163.09,319.44 L164.60,322.94 L166.12,326.46 L167.63,329.96 L169.14,333.41 L170.66,336.77 L172.17,340.02 L173.68,343.13 L175.20,346.08 L176.71,348.86 L178.23,351.46 L179.74,353.87 L181.25,356.09 L182.77,358.12 L184.28,359.98 L185.80,361.65 L187.31,363.16 L188.82,364.52 L190.34,365.74 L191.85,366.82 L193.37,367.78 L194.88,368.63 L196.39,369.38 L197.91,370.05 L199.42,370.64 L200.94,371.15 L202.45,371.60 L203.96,372.00 L205.48,372.35 L206.99,372.65 L208.51,372.92 L210.02,373.15 L211.53,373.35 L213.05,373.53 L214.56,373.68 L216.07,373.82 L217.59,373.93 L219.10,374.03 L220.62,374.12 L222.13,374.20 L223.64,374.27 L225.16,374.33 L226.67,374.38 L228.19,374.42 L229.70,374.46" stroke="#ff4646" stroke-width="1.55" fill="none" stroke-linecap="round"/>
<path d="M130.60,272.20 L130.60,287.70 M127.70,272.20 L133.50,272.20 M127.70,287.70 L133.50,287.70" stroke="#ff4646" stroke-width="1.8" fill="none"/>
<path d="M151.00,288.70 L151.00,297.70 M148.10,288.70 L153.90,288.70 M148.10,297.70 L153.90,297.70" stroke="#ff4646" stroke-width="1.8" fill="none"/>
<path d="M171.30,334.90 L171.30,344.90 M168.40,334.90 L174.20,334.90 M168.40,344.90 L174.20,344.90" stroke="#ff4646" stroke-width="1.8" fill="none"/>
<circle cx="110.10" cy="274.20" r="2.70" fill="#ff4646"/>
<circle cx="130.60" cy="279.80" r="1.62" fill="#ff4646"/>
<circle cx="151.00" cy="293.30" r="2.70" fill="#ff4646"/>
<circle cx="171.30" cy="340.30" r="2.70" fill="#ff4646"/>
<circle cx="180.90" cy="355.80" r="2.70" fill="#ff4646"/>
<circle cx="190.80" cy="363.80" r="2.70" fill="#ff4646"/>
<circle cx="200.80" cy="369.40" r="2.70" fill="#ff4646"/>
<circle cx="209.80" cy="372.70" r="2.70" fill="#ff4646"/>
<circle cx="219.70" cy="374.10" r="2.70" fill="#ff4646"/>
<circle cx="229.70" cy="374.70" r="2.70" fill="#ff4646"/>
<path d="M412.90,252.80 L412.90,376.40 L585.00,376.40" stroke="#383838" stroke-width="1.8" fill="none" stroke-linejoin="miter"/>
<path d="M409.70,376.40 L412.90,376.40" stroke="#383838" stroke-width="1.8"/>
<text x="409.30" y="378.62" font-size="9.5" font-weight="bold" text-anchor="end" fill="#0c0c0c" textLength="4.7" lengthAdjust="spacingAndGlyphs" stroke="#0c0c0c" stroke-width="0.3">0</text>
<path d="M409.70,345.72 L412.90,345.72" stroke="#383838" stroke-width="1.8"/>
<text x="409.30" y="347.94" font-size="9.5" font-weight="bold" text-anchor="end" fill="#0c0c0c" textLength="27.9" lengthAdjust="spacingAndGlyphs" stroke="#0c0c0c" stroke-width="0.3">100000</text>
<path d="M409.70,315.05 L412.90,315.05" stroke="#383838" stroke-width="1.8"/>
<text x="409.30" y="317.27" font-size="9.5" font-weight="bold" text-anchor="end" fill="#0c0c0c" textLength="27.9" lengthAdjust="spacingAndGlyphs" stroke="#0c0c0c" stroke-width="0.3">200000</text>
<path d="M409.70,284.38 L412.90,284.38" stroke="#383838" stroke-width="1.8"/>
<text x="409.30" y="286.60" font-size="9.5" font-weight="bold" text-anchor="end" fill="#0c0c0c" textLength="27.9" lengthAdjust="spacingAndGlyphs" stroke="#0c0c0c" stroke-width="0.3">300000</text>
<path d="M409.70,253.70 L412.90,253.70" stroke="#383838" stroke-width="1.8"/>
<text x="409.30" y="255.92" font-size="9.5" font-weight="bold" text-anchor="end" fill="#0c0c0c" textLength="27.9" lengthAdjust="spacingAndGlyphs" stroke="#0c0c0c" stroke-width="0.3">400000</text>
<path d="M412.80,376.40 L412.80,380.10" stroke="#383838" stroke-width="1.8"/>
<text x="413.20" y="389.72" font-size="9.5" font-weight="bold" text-anchor="middle" fill="#0c0c0c" textLength="7.4" lengthAdjust="spacingAndGlyphs" stroke="#0c0c0c" stroke-width="0.3">-4</text>
<path d="M455.60,376.40 L455.60,380.10" stroke="#383838" stroke-width="1.8"/>
<text x="456.00" y="389.72" font-size="9.5" font-weight="bold" text-anchor="middle" fill="#0c0c0c" textLength="7.4" lengthAdjust="spacingAndGlyphs" stroke="#0c0c0c" stroke-width="0.3">-2</text>
<path d="M498.80,376.40 L498.80,380.10" stroke="#383838" stroke-width="1.8"/>
<text x="498.80" y="389.72" font-size="9.5" font-weight="bold" text-anchor="middle" fill="#0c0c0c" textLength="4.7" lengthAdjust="spacingAndGlyphs" stroke="#0c0c0c" stroke-width="0.3">0</text>
<path d="M541.30,376.40 L541.30,380.10" stroke="#383838" stroke-width="1.8"/>
<text x="541.30" y="389.72" font-size="9.5" font-weight="bold" text-anchor="middle" fill="#0c0c0c" textLength="4.7" lengthAdjust="spacingAndGlyphs" stroke="#0c0c0c" stroke-width="0.3">2</text>
<path d="M584.10,376.40 L584.10,380.10" stroke="#383838" stroke-width="1.8"/>
<text x="584.10" y="389.72" font-size="9.5" font-weight="bold" text-anchor="middle" fill="#0c0c0c" textLength="4.7" lengthAdjust="spacingAndGlyphs" stroke="#0c0c0c" stroke-width="0.3">4</text>
<text x="492.70" y="238.10" font-size="10.9" font-weight="bold" text-anchor="middle" fill="#0c0c0c" textLength="118.8" lengthAdjust="spacingAndGlyphs" stroke="#0c0c0c" stroke-width="0.3">reporter assay (IL-36β )</text>
<text x="498.40" y="402.60" font-size="9.7" font-weight="bold" text-anchor="middle" fill="#0c0c0c" textLength="40.5" lengthAdjust="spacingAndGlyphs" stroke="#0c0c0c" stroke-width="0.25">Conc.(nM)</text>
<text transform="translate(376.60,314.20) rotate(-90)" font-size="10.0" font-weight="bold" text-anchor="middle" fill="#0c0c0c" textLength="20.4" lengthAdjust="spacingAndGlyphs" stroke="#0c0c0c" stroke-width="0.2">RLU</text>
<path d="M556.60,259.25 L562.60,259.25 L559.60,253.15 Z" fill="#0b8a14"/>
<text x="572.00" y="259.30" font-size="9.8" font-weight="normal" text-anchor="start" fill="#111" textLength="29.5" lengthAdjust="spacingAndGlyphs" stroke="#111" stroke-width="0.45">CAN04</text>
<circle cx="559.60" cy="271.40" r="2.70" fill="#ff4646"/>
<text x="572.00" y="274.30" font-size="9.8" font-weight="normal" text-anchor="start" fill="#111" textLength="28.3" lengthAdjust="spacingAndGlyphs" stroke="#111" stroke-width="0.45">AK135</text>
<path d="M426.00,266.22 L427.59,266.29 L429.17,266.36 L430.76,266.45 L432.34,266.55 L433.93,266.66 L435.52,266.78 L437.10,266.93 L438.69,267.09 L440.27,267.27 L441.86,267.47 L443.45,267.71 L445.03,267.97 L446.62,268.27 L448.21,268.60 L449.79,268.98 L451.38,269.40 L452.96,269.88 L454.55,270.41 L456.14,271.01 L457.72,271.68 L459.31,272.44 L460.89,273.27 L462.48,274.21 L464.07,275.25 L465.65,276.40 L467.24,277.67 L468.82,279.06 L470.41,280.60 L472.00,282.27 L473.58,284.10 L475.17,286.07 L476.75,288.20 L478.34,290.48 L479.93,292.92 L481.51,295.49 L483.10,298.20 L484.68,301.03 L486.27,303.97 L487.86,306.99 L489.44,310.08 L491.03,313.21 L492.62,316.36 L494.20,319.50 L495.79,322.61 L497.37,325.66 L498.96,328.64 L500.55,331.51 L502.13,334.27 L503.72,336.90 L505.30,339.39 L506.89,341.73 L508.48,343.92 L510.06,345.96 L511.65,347.84 L513.23,349.58 L514.82,351.17 L516.41,352.62 L517.99,353.94 L519.58,355.14 L521.16,356.22 L522.75,357.19 L524.34,358.07 L525.92,358.85 L527.51,359.55 L529.09,360.18 L530.68,360.74 L532.27,361.24 L533.85,361.69 L535.44,362.08 L537.03,362.43 L538.61,362.74 L540.20,363.02 L541.78,363.26 L543.37,363.48 L544.96,363.67 L546.54,363.84 L548.13,363.99 L549.71,364.12 L551.30,364.23" stroke="#0b8a14" stroke-width="1.8" fill="none" stroke-linecap="round"/>
<path d="M447.30,263.30 L447.30,269.80 M444.40,263.30 L450.20,263.30 M444.40,269.80 L450.20,269.80" stroke="#0b8a14" stroke-width="1.8" fill="none"/>
<path d="M468.60,270.90 L468.60,278.80 M465.70,270.90 L471.50,270.90 M465.70,278.80 L471.50,278.80" stroke="#0b8a14" stroke-width="1.8" fill="none"/>
<path d="M423.10,272.65 L429.10,272.65 L426.10,266.55 Z" fill="#0b8a14"/>
<path d="M444.30,270.65 L450.30,270.65 L447.30,264.55 Z" fill="#0b8a14"/>
<path d="M465.60,278.65 L471.60,278.65 L468.60,272.55 Z" fill="#0b8a14"/>
<path d="M487.60,318.65 L493.60,318.65 L490.60,312.55 Z" fill="#0b8a14"/>
<path d="M497.40,332.95 L503.40,332.95 L500.40,326.85 Z" fill="#0b8a14"/>
<path d="M507.50,348.35 L513.50,348.35 L510.50,342.25 Z" fill="#0b8a14"/>
<path d="M517.80,357.65 L523.80,357.65 L520.80,351.55 Z" fill="#0b8a14"/>
<path d="M527.80,362.65 L533.80,362.65 L530.80,356.55 Z" fill="#0b8a14"/>
<path d="M538.10,368.65 L544.10,368.65 L541.10,362.55 Z" fill="#0b8a14"/>
<path d="M548.30,369.25 L554.30,369.25 L551.30,363.15 Z" fill="#0b8a14"/>
<path d="M426.00,277.41 L427.59,277.50 L429.17,277.61 L430.76,277.72 L432.34,277.86 L433.93,278.01 L435.52,278.17 L437.10,278.37 L438.69,278.58 L440.27,278.82 L441.86,279.09 L443.45,279.40 L445.03,279.75 L446.62,280.14 L448.21,280.57 L449.79,281.06 L451.38,281.61 L452.96,282.22 L454.55,282.91 L456.14,283.67 L457.72,284.53 L459.31,285.47 L460.89,286.52 L462.48,287.67 L464.07,288.94 L465.65,290.34 L467.24,291.87 L468.82,293.53 L470.41,295.34 L472.00,297.29 L473.58,299.39 L475.17,301.63 L476.75,304.01 L478.34,306.52 L479.93,309.16 L481.51,311.90 L483.10,314.75 L484.68,317.67 L486.27,320.64 L487.86,323.66 L489.44,326.68 L491.03,329.69 L492.62,332.67 L494.20,335.59 L495.79,338.44 L497.37,341.19 L498.96,343.83 L500.55,346.34 L502.13,348.72 L503.72,350.96 L505.30,353.06 L506.89,355.01 L508.48,356.82 L510.06,358.49 L511.65,360.02 L513.23,361.42 L514.82,362.69 L516.41,363.85 L517.99,364.90 L519.58,365.84 L521.16,366.69 L522.75,367.46 L524.34,368.15 L525.92,368.76 L527.51,369.31 L529.09,369.80 L530.68,370.24 L532.27,370.63 L533.85,370.97 L535.44,371.28 L537.03,371.56 L538.61,371.80 L540.20,372.01 L541.78,372.20 L543.37,372.37 L544.96,372.52 L546.54,372.65 L548.13,372.77 L549.71,372.88 L551.30,372.97" stroke="#ff4646" stroke-width="1.55" fill="none" stroke-linecap="round"/>
<circle cx="426.10" cy="276.40" r="2.70" fill="#ff4646"/>
<circle cx="447.30" cy="284.70" r="2.70" fill="#ff4646"/>
<circle cx="469.00" cy="289.70" r="2.70" fill="#ff4646"/>
<circle cx="490.50" cy="330.50" r="2.70" fill="#ff4646"/>
<circle cx="500.30" cy="348.40" r="2.70" fill="#ff4646"/>
<circle cx="510.40" cy="356.20" r="2.70" fill="#ff4646"/>
<circle cx="520.80" cy="364.20" r="2.70" fill="#ff4646"/>
<circle cx="530.80" cy="369.20" r="2.70" fill="#ff4646"/>
<circle cx="541.10" cy="372.40" r="2.70" fill="#ff4646"/>
<circle cx="551.30" cy="373.70" r="2.70" fill="#ff4646"/>
<path d="M716.50,252.10 L716.50,371.90 L881.50,371.90" stroke="#383838" stroke-width="1.8" fill="none" stroke-linejoin="miter"/>
<path d="M713.30,371.90 L716.50,371.90" stroke="#383838" stroke-width="1.8"/>
<text x="712.90" y="374.62" font-size="9.5" font-weight="bold" text-anchor="end" fill="#0c0c0c" textLength="4.5" lengthAdjust="spacingAndGlyphs" stroke="#0c0c0c" stroke-width="0.3">0</text>
<path d="M713.30,348.12 L716.50,348.12" stroke="#383838" stroke-width="1.8"/>
<text x="712.90" y="350.84" font-size="9.5" font-weight="bold" text-anchor="end" fill="#0c0c0c" textLength="26.7" lengthAdjust="spacingAndGlyphs" stroke="#0c0c0c" stroke-width="0.3">100000</text>
<path d="M713.30,324.34 L716.50,324.34" stroke="#383838" stroke-width="1.8"/>
<text x="712.90" y="327.06" font-size="9.5" font-weight="bold" text-anchor="end" fill="#0c0c0c" textLength="26.7" lengthAdjust="spacingAndGlyphs" stroke="#0c0c0c" stroke-width="0.3">200000</text>
<path d="M713.30,300.56 L716.50,300.56" stroke="#383838" stroke-width="1.8"/>
<text x="712.90" y="303.28" font-size="9.5" font-weight="bold" text-anchor="end" fill="#0c0c0c" textLength="26.7" lengthAdjust="spacingAndGlyphs" stroke="#0c0c0c" stroke-width="0.3">300000</text>
<path d="M713.30,276.78 L716.50,276.78" stroke="#383838" stroke-width="1.8"/>
<text x="712.90" y="279.50" font-size="9.5" font-weight="bold" text-anchor="end" fill="#0c0c0c" textLength="26.7" lengthAdjust="spacingAndGlyphs" stroke="#0c0c0c" stroke-width="0.3">400000</text>
<path d="M713.30,253.00 L716.50,253.00" stroke="#383838" stroke-width="1.8"/>
<text x="712.90" y="255.72" font-size="9.5" font-weight="bold" text-anchor="end" fill="#0c0c0c" textLength="26.7" lengthAdjust="spacingAndGlyphs" stroke="#0c0c0c" stroke-width="0.3">500000</text>
<path d="M716.20,371.90 L716.20,375.60" stroke="#383838" stroke-width="1.8"/>
<text x="716.60" y="384.72" font-size="9.5" font-weight="bold" text-anchor="middle" fill="#0c0c0c" textLength="7.1" lengthAdjust="spacingAndGlyphs" stroke="#0c0c0c" stroke-width="0.3">-4</text>
<path d="M757.10,371.90 L757.10,375.60" stroke="#383838" stroke-width="1.8"/>
<text x="757.50" y="384.72" font-size="9.5" font-weight="bold" text-anchor="middle" fill="#0c0c0c" textLength="7.1" lengthAdjust="spacingAndGlyphs" stroke="#0c0c0c" stroke-width="0.3">-2</text>
<path d="M798.40,371.90 L798.40,375.60" stroke="#383838" stroke-width="1.8"/>
<text x="798.40" y="384.72" font-size="9.5" font-weight="bold" text-anchor="middle" fill="#0c0c0c" textLength="4.5" lengthAdjust="spacingAndGlyphs" stroke="#0c0c0c" stroke-width="0.3">0</text>
<path d="M839.20,371.90 L839.20,375.60" stroke="#383838" stroke-width="1.8"/>
<text x="839.20" y="384.72" font-size="9.5" font-weight="bold" text-anchor="middle" fill="#0c0c0c" textLength="4.5" lengthAdjust="spacingAndGlyphs" stroke="#0c0c0c" stroke-width="0.3">2</text>
<path d="M880.60,371.90 L880.60,375.60" stroke="#383838" stroke-width="1.8"/>
<text x="880.60" y="384.72" font-size="9.5" font-weight="bold" text-anchor="middle" fill="#0c0c0c" textLength="4.5" lengthAdjust="spacingAndGlyphs" stroke="#0c0c0c" stroke-width="0.3">4</text>
<text x="793.10" y="238.10" font-size="10.9" font-weight="bold" text-anchor="middle" fill="#0c0c0c" textLength="114.0" lengthAdjust="spacingAndGlyphs" stroke="#0c0c0c" stroke-width="0.3">reporter assay (IL-36γ )</text>
<text x="798.50" y="397.90" font-size="9.7" font-weight="bold" text-anchor="middle" fill="#0c0c0c" textLength="39.8" lengthAdjust="spacingAndGlyphs" stroke="#0c0c0c" stroke-width="0.25">Conc.(nM)</text>
<text transform="translate(681.60,312.00) rotate(-90)" font-size="10.0" font-weight="bold" text-anchor="middle" fill="#0c0c0c" textLength="20.0" lengthAdjust="spacingAndGlyphs" stroke="#0c0c0c" stroke-width="0.2">RLU</text>
<path d="M854.70,259.25 L860.70,259.25 L857.70,253.15 Z" fill="#0b8a14"/>
<text x="870.00" y="259.30" font-size="9.8" font-weight="normal" text-anchor="start" fill="#111" textLength="28.0" lengthAdjust="spacingAndGlyphs" stroke="#111" stroke-width="0.45">CAN04</text>
<circle cx="857.70" cy="270.20" r="2.70" fill="#ff4646"/>
<text x="870.00" y="273.10" font-size="9.8" font-weight="normal" text-anchor="start" fill="#111" textLength="26.9" lengthAdjust="spacingAndGlyphs" stroke="#111" stroke-width="0.45">AK135</text>
<path d="M728.80,259.80 L730.32,259.91 L731.85,260.04 L733.37,260.19 L734.89,260.35 L736.41,260.52 L737.94,260.72 L739.46,260.93 L740.98,261.17 L742.51,261.43 L744.03,261.71 L745.55,262.03 L747.07,262.38 L748.60,262.76 L750.12,263.18 L751.64,263.64 L753.16,264.14 L754.69,264.70 L756.21,265.30 L757.73,265.97 L759.26,266.69 L760.78,267.48 L762.30,268.34 L763.82,269.27 L765.35,270.28 L766.87,271.37 L768.39,272.55 L769.92,273.81 L771.44,275.17 L772.96,276.63 L774.48,278.18 L776.01,279.83 L777.53,281.58 L779.05,283.43 L780.57,285.37 L782.10,287.41 L783.62,289.53 L785.14,291.73 L786.67,294.00 L788.19,296.34 L789.71,298.73 L791.23,301.16 L792.76,303.62 L794.28,306.10 L795.80,308.59 L797.33,311.07 L798.85,313.52 L800.37,315.94 L801.89,318.31 L803.42,320.63 L804.94,322.88 L806.46,325.06 L807.98,327.15 L809.51,329.16 L811.03,331.07 L812.55,332.88 L814.08,334.60 L815.60,336.22 L817.12,337.74 L818.64,339.17 L820.17,340.50 L821.69,341.74 L823.21,342.89 L824.74,343.95 L826.26,344.93 L827.78,345.84 L829.30,346.68 L830.83,347.44 L832.35,348.15 L833.87,348.79 L835.39,349.38 L836.92,349.92 L838.44,350.41 L839.96,350.86 L841.49,351.26 L843.01,351.63 L844.53,351.97 L846.05,352.28 L847.58,352.55 L849.10,352.81" stroke="#0b8a14" stroke-width="1.8" fill="none" stroke-linecap="round"/>
<path d="M839.20,346.90 L839.20,355.40 M836.30,346.90 L842.10,346.90 M836.30,355.40 L842.10,355.40" stroke="#0b8a14" stroke-width="1.8" fill="none"/>
<path d="M849.10,345.50 L849.10,362.80 M846.20,345.50 L852.00,345.50 M846.20,362.80 L852.00,362.80" stroke="#0b8a14" stroke-width="1.8" fill="none"/>
<path d="M725.80,262.25 L731.80,262.25 L728.80,256.15 Z" fill="#0b8a14"/>
<path d="M746.30,266.65 L752.30,266.65 L749.30,260.55 Z" fill="#0b8a14"/>
<path d="M766.60,275.65 L772.60,275.65 L769.60,269.55 Z" fill="#0b8a14"/>
<path d="M787.10,301.15 L793.10,301.15 L790.10,295.05 Z" fill="#0b8a14"/>
<path d="M797.00,319.85 L803.00,319.85 L800.00,313.75 Z" fill="#0b8a14"/>
<path d="M807.40,334.35 L813.40,334.35 L810.40,328.25 Z" fill="#0b8a14"/>
<path d="M816.60,341.35 L822.60,341.35 L819.60,335.25 Z" fill="#0b8a14"/>
<path d="M826.20,347.15 L832.20,347.15 L829.20,341.05 Z" fill="#0b8a14"/>
<path d="M836.20,354.65 L842.20,354.65 L839.20,348.55 Z" fill="#0b8a14"/>
<path d="M846.10,357.05 L852.10,357.05 L849.10,350.95 Z" fill="#0b8a14"/>
<path d="M728.80,284.11 L730.32,284.16 L731.85,284.21 L733.37,284.27 L734.89,284.34 L736.41,284.42 L737.94,284.51 L739.46,284.61 L740.98,284.72 L742.51,284.86 L744.03,285.01 L745.55,285.18 L747.07,285.38 L748.60,285.61 L750.12,285.86 L751.64,286.16 L753.16,286.49 L754.69,286.87 L756.21,287.30 L757.73,287.78 L759.26,288.33 L760.78,288.95 L762.30,289.65 L763.82,290.44 L765.35,291.32 L766.87,292.30 L768.39,293.40 L769.92,294.61 L771.44,295.96 L772.96,297.44 L774.48,299.06 L776.01,300.83 L777.53,302.74 L779.05,304.80 L780.57,307.00 L782.10,309.34 L783.62,311.80 L785.14,314.36 L786.67,317.02 L788.19,319.75 L789.71,322.52 L791.23,325.32 L792.76,328.11 L794.28,330.87 L795.80,333.57 L797.33,336.20 L798.85,338.73 L800.37,341.15 L801.89,343.44 L803.42,345.59 L804.94,347.60 L806.46,349.46 L807.98,351.18 L809.51,352.75 L811.03,354.18 L812.55,355.48 L814.08,356.66 L815.60,357.71 L817.12,358.66 L818.64,359.50 L820.17,360.26 L821.69,360.93 L823.21,361.52 L824.74,362.05 L826.26,362.51 L827.78,362.92 L829.30,363.29 L830.83,363.60 L832.35,363.88 L833.87,364.13 L835.39,364.34 L836.92,364.53 L838.44,364.70 L839.96,364.84 L841.49,364.97 L843.01,365.08 L844.53,365.18 L846.05,365.26 L847.58,365.34 L849.10,365.40" stroke="#ff4646" stroke-width="1.55" fill="none" stroke-linecap="round"/>
<path d="M749.30,274.80 L749.30,288.70 M746.40,274.80 L752.20,274.80 M746.40,288.70 L752.20,288.70" stroke="#ff4646" stroke-width="1.8" fill="none"/>
<path d="M769.60,286.70 L769.60,295.30 M766.70,286.70 L772.50,286.70 M766.70,295.30 L772.50,295.30" stroke="#ff4646" stroke-width="1.8" fill="none"/>
<path d="M790.30,323.00 L790.30,329.90 M787.40,323.00 L793.20,323.00 M787.40,329.90 L793.20,329.90" stroke="#ff4646" stroke-width="1.8" fill="none"/>
<path d="M829.20,354.80 L829.20,362.80 M826.30,354.80 L832.10,354.80 M826.30,362.80 L832.10,362.80" stroke="#ff4646" stroke-width="1.8" fill="none"/>
<circle cx="728.80" cy="290.10" r="2.70" fill="#ff4646"/>
<circle cx="749.30" cy="282.20" r="2.70" fill="#ff4646"/>
<circle cx="769.60" cy="291.30" r="2.70" fill="#ff4646"/>
<circle cx="790.30" cy="326.30" r="2.70" fill="#ff4646"/>
<circle cx="799.90" cy="341.50" r="2.70" fill="#ff4646"/>
<circle cx="809.90" cy="350.40" r="2.70" fill="#ff4646"/>
<circle cx="819.50" cy="359.20" r="2.70" fill="#ff4646"/>
<circle cx="829.20" cy="358.40" r="2.70" fill="#ff4646"/>
<circle cx="839.20" cy="367.40" r="2.70" fill="#ff4646"/>
<circle cx="849.10" cy="369.20" r="2.70" fill="#ff4646"/>
</g>
<g>
<rect x="5.8" y="440.1" width="984.4000000000001" height="26.299999999999955" fill="#d9e2f3"/>
<path d="M5.8,414.4 L5.8,492.90000000000003" stroke="#4472c4" stroke-width="1.2"/>
<path d="M136.6,414.4 L136.6,492.90000000000003" stroke="#4472c4" stroke-width="1.2"/>
<path d="M292.8,414.4 L292.8,492.90000000000003" stroke="#4472c4" stroke-width="1.2"/>
<path d="M450,414.4 L450,492.90000000000003" stroke="#4472c4" stroke-width="1.2"/>
<path d="M607.3,414.4 L607.3,492.90000000000003" stroke="#4472c4" stroke-width="1.2"/>
<path d="M734.6,414.4 L734.6,492.90000000000003" stroke="#4472c4" stroke-width="1.2"/>
<path d="M862.8,414.4 L862.8,492.90000000000003" stroke="#4472c4" stroke-width="1.2"/>
<path d="M990.2,414.4 L990.2,492.90000000000003" stroke="#4472c4" stroke-width="1.2"/>
<path d="M5.2,415 L990.8000000000001,415" stroke="#4472c4" stroke-width="1.2"/>
<path d="M5.2,440.1 L990.8000000000001,440.1" stroke="#4472c4" stroke-width="1.8"/>
<path d="M5.2,466.4 L990.8000000000001,466.4" stroke="#4472c4" stroke-width="1.2"/>
<path d="M5.2,492.3 L990.8000000000001,492.3" stroke="#4472c4" stroke-width="1.2"/>
<text x="51.5" y="435.1" font-size="17.6" font-weight="bold" text-anchor="start" fill="#151515" stroke="#151515" stroke-width="0.25" textLength="37.6" lengthAdjust="spacingAndGlyphs">IC50</text>
<text x="192.0" y="435.1" font-size="17.6" font-weight="bold" text-anchor="start" fill="#151515" stroke="#151515" stroke-width="0.25" textLength="45.2" lengthAdjust="spacingAndGlyphs">IL-1α</text>
<text x="350.4" y="435.1" font-size="17.6" font-weight="bold" text-anchor="start" fill="#151515" stroke="#151515" stroke-width="0.25" textLength="43.2" lengthAdjust="spacingAndGlyphs">IL-1β</text>
<text x="507.5" y="435.1" font-size="17.6" font-weight="bold" text-anchor="start" fill="#151515" stroke="#151515" stroke-width="0.25" textLength="42.2" lengthAdjust="spacingAndGlyphs">IL-33</text>
<text x="644.3" y="435.1" font-size="17.6" font-weight="bold" text-anchor="start" fill="#151515" stroke="#151515" stroke-width="0.25" textLength="54.0" lengthAdjust="spacingAndGlyphs">IL-36α</text>
<text x="771.1" y="435.1" font-size="17.6" font-weight="bold" text-anchor="start" fill="#151515" stroke="#151515" stroke-width="0.25" textLength="54.7" lengthAdjust="spacingAndGlyphs">IL-36β</text>
<text x="900.4" y="435.1" font-size="17.6" font-weight="bold" text-anchor="start" fill="#151515" stroke="#151515" stroke-width="0.25" textLength="53.4" lengthAdjust="spacingAndGlyphs">IL-36γ</text>
<text x="43.9" y="459.5" font-size="18.2" font-weight="normal" text-anchor="start" fill="#151515" stroke="#151515" stroke-width="0.25" textLength="52.2" lengthAdjust="spacingAndGlyphs">AK135</text>
<text x="152.6" y="459.5" font-size="18.2" font-weight="normal" text-anchor="start" fill="#151515" stroke="#151515" stroke-width="0.25" textLength="123.3" lengthAdjust="spacingAndGlyphs">0.09478 μg/mL</text>
<text x="309.7" y="459.5" font-size="18.2" font-weight="normal" text-anchor="start" fill="#151515" stroke="#151515" stroke-width="0.25" textLength="123.5" lengthAdjust="spacingAndGlyphs">0.04317 μg/mL</text>
<text x="472.1" y="459.5" font-size="18.2" font-weight="normal" text-anchor="start" fill="#151515" stroke="#151515" stroke-width="0.25" textLength="113.2" lengthAdjust="spacingAndGlyphs">0.3064 μg/mL</text>
<text x="627.5" y="459.5" font-size="18.2" font-weight="normal" text-anchor="start" fill="#151515" stroke="#151515" stroke-width="0.25" textLength="85.9" lengthAdjust="spacingAndGlyphs">0.2083 nM</text>
<text x="754.8" y="459.5" font-size="18.2" font-weight="normal" text-anchor="start" fill="#151515" stroke="#151515" stroke-width="0.25" textLength="86.6" lengthAdjust="spacingAndGlyphs">0.3263 nM</text>
<text x="882.8" y="459.5" font-size="18.2" font-weight="normal" text-anchor="start" fill="#151515" stroke="#151515" stroke-width="0.25" textLength="86.1" lengthAdjust="spacingAndGlyphs">0.4558 nM</text>
<text x="8.8" y="485.7" font-size="18.2" font-weight="normal" text-anchor="start" fill="#151515" stroke="#151515" stroke-width="0.25" textLength="123.0" lengthAdjust="spacingAndGlyphs">CAN04 (Akeso)</text>
<text x="157.6" y="485.7" font-size="18.2" font-weight="normal" text-anchor="start" fill="#151515" stroke="#151515" stroke-width="0.25" textLength="113.7" lengthAdjust="spacingAndGlyphs">0.1034 μg/mL</text>
<text x="314.8" y="485.7" font-size="18.2" font-weight="normal" text-anchor="start" fill="#151515" stroke="#151515" stroke-width="0.25" textLength="113.4" lengthAdjust="spacingAndGlyphs">0.1180 μg/mL</text>
<text x="472.1" y="485.7" font-size="18.2" font-weight="normal" text-anchor="start" fill="#151515" stroke="#151515" stroke-width="0.25" textLength="113.2" lengthAdjust="spacingAndGlyphs">0.3705 μg/mL</text>
<text x="627.5" y="485.7" font-size="18.2" font-weight="normal" text-anchor="start" fill="#151515" stroke="#151515" stroke-width="0.25" textLength="85.9" lengthAdjust="spacingAndGlyphs">0.3852 nM</text>
<text x="754.8" y="485.7" font-size="18.2" font-weight="normal" text-anchor="start" fill="#151515" stroke="#151515" stroke-width="0.25" textLength="86.6" lengthAdjust="spacingAndGlyphs">0.5230 nM</text>
<text x="882.8" y="485.7" font-size="18.2" font-weight="normal" text-anchor="start" fill="#151515" stroke="#151515" stroke-width="0.25" textLength="86.1" lengthAdjust="spacingAndGlyphs">0.6729 nM</text>
</g>
<text x="9.3" y="15.9" font-size="17.9" font-weight="bold" fill="#0a6fc2" stroke="#0a6fc2" stroke-width="0.3" textLength="52.1" lengthAdjust="spacingAndGlyphs">Figure</text>
<text x="67.8" y="15.9" font-size="17.9" font-weight="bold" fill="#0a6fc2" stroke="#0a6fc2" stroke-width="0.3" textLength="14.3" lengthAdjust="spacingAndGlyphs">1.</text>
<text x="89.6" y="15.9" font-size="17.9" font-weight="bold" fill="#0a6fc2" stroke="#0a6fc2" stroke-width="0.3" textLength="103.4" lengthAdjust="spacingAndGlyphs">Neutralizing</text>
<text x="202.5" y="15.9" font-size="17.9" font-weight="bold" fill="#0a6fc2" stroke="#0a6fc2" stroke-width="0.3" textLength="85.8" lengthAdjust="spacingAndGlyphs">bioactivity</text>
<text x="296.3" y="15.9" font-size="17.9" font-weight="bold" fill="#0a6fc2" stroke="#0a6fc2" stroke-width="0.3" textLength="16.3" lengthAdjust="spacingAndGlyphs">of</text>
<text x="318.6" y="15.9" font-size="17.9" font-weight="bold" fill="#0a6fc2" stroke="#0a6fc2" stroke-width="0.3" textLength="55.4" lengthAdjust="spacingAndGlyphs">AK135</text>
<text x="380.0" y="15.9" font-size="17.9" font-weight="bold" fill="#0a6fc2" stroke="#0a6fc2" stroke-width="0.3" textLength="14.7" lengthAdjust="spacingAndGlyphs">in</text>
<text x="400.7" y="15.9" font-size="17.9" font-weight="bold" fill="#0a6fc2" stroke="#0a6fc2" stroke-width="0.3" textLength="42.8" lengthAdjust="spacingAndGlyphs">IL-1/</text>
<text x="444.3" y="15.9" font-size="17.9" font-weight="bold" fill="#0a6fc2" stroke="#0a6fc2" stroke-width="0.3" textLength="52.0" lengthAdjust="spacingAndGlyphs">IL-33/</text>
<text x="497.0" y="15.9" font-size="17.9" font-weight="bold" fill="#0a6fc2" stroke="#0a6fc2" stroke-width="0.3" textLength="54.0" lengthAdjust="spacingAndGlyphs">IL-36-</text>
<text x="552.7" y="15.9" font-size="17.9" font-weight="bold" fill="#0a6fc2" stroke="#0a6fc2" stroke-width="0.3" textLength="71.5" lengthAdjust="spacingAndGlyphs">mediated</text>
<text x="633.3" y="15.9" font-size="17.9" font-weight="bold" fill="#0a6fc2" stroke="#0a6fc2" stroke-width="0.3" textLength="75.3" lengthAdjust="spacingAndGlyphs">signaling</text>
<text x="715.8" y="15.9" font-size="17.9" font-weight="bold" fill="#0a6fc2" stroke="#0a6fc2" stroke-width="0.3" textLength="81.8" lengthAdjust="spacingAndGlyphs">pathways</text>
</svg>
</body>
</html>
